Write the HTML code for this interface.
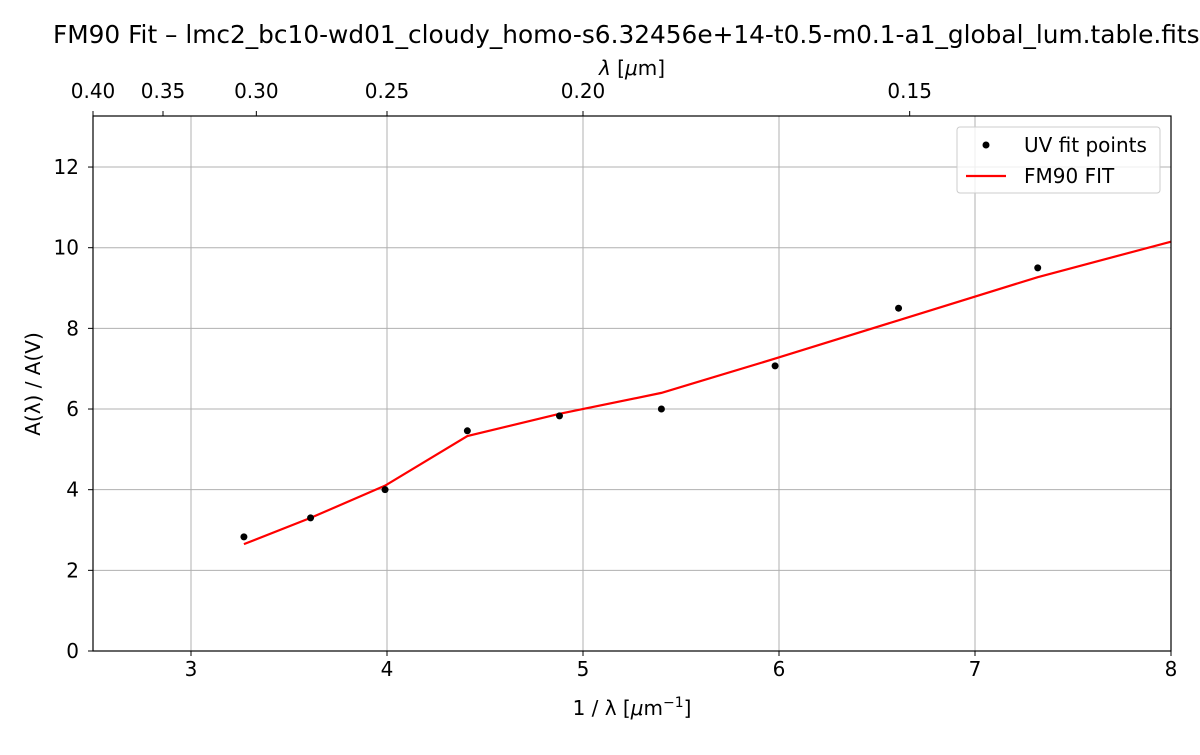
<!DOCTYPE html>
<html><head><meta charset="utf-8"><style>
body{margin:0;background:#fff}
svg text{font-family:"DejaVu Sans","Liberation Sans",sans-serif;fill:#000}
</style></head><body>
<svg id="chart" width="1200" height="750" xmlns="http://www.w3.org/2000/svg">
<text x="53" y="43" font-size="24.8">FM90 Fit – lmc2_bc10-wd01_cloudy_homo-s6.32456e+14-t0.5-m0.1-a1_global_lum.table.fits</text>
<g id="grid"></g>
<g id="marks"></g>
<rect x="93" y="116" width="1078" height="535" fill="none" stroke="#000" stroke-width="1.2"/>
<g id="axes"></g>
<text x="632" y="715" font-size="20" text-anchor="middle">1 / λ [<tspan font-style="italic">μ</tspan>m<tspan dy="-8" font-size="14">−1</tspan><tspan dy="8">]</tspan></text>
<text x="632" y="75" font-size="20" text-anchor="middle"><tspan font-style="italic">λ</tspan> [<tspan font-style="italic">μ</tspan>m]</text>
<text transform="translate(40,384) rotate(-90)" font-size="20" text-anchor="middle">A(λ) / A(V)</text>
<g>
<rect x="957" y="127" width="203" height="66" rx="3" fill="#fff" fill-opacity="0.8" stroke="#ccc"/>
<circle cx="986" cy="145" r="3.5" fill="#000"/>
<text x="1024" y="152" font-size="20">UV fit points</text>
<line x1="966" y1="176" x2="1006" y2="176" stroke="red" stroke-width="2.2"/>
<text x="1024" y="183" font-size="20">FM90 FIT</text>
</g>
</svg>
<script>
const pointX=[3.27,3.61,3.99,4.41,4.88,5.40,5.98,6.61,7.32];
const pointY=[2.83,3.3,4.0,5.46,5.83,6.0,7.07,8.5,9.5];
const fitX=[3.27,3.61,3.99,4.41,4.88,5.40,5.98,6.61,7.32,8.0];
const fitY=[2.65,3.3,4.1,5.33,5.88,6.4,7.25,8.2,9.27,10.15];
const xTicks=[3,4,5,6,7,8];
const yTicks=[0,2,4,6,8,10,12];
const topTicks=[0.40,0.35,0.30,0.25,0.20,0.15];
const NS="http://www.w3.org/2000/svg";
const X=v=>93+(v-2.5)*196;
const Y=v=>651-v*40.33;
function mk(t,a,p){const e=document.createElementNS(NS,t);for(const k in a)e.setAttribute(k,a[k]);p.appendChild(e);return e;}
const grid=document.getElementById('grid'),axes=document.getElementById('axes'),marks=document.getElementById('marks');
xTicks.forEach(v=>{
 const g=mk('line',{x1:X(v),x2:X(v),y1:116,y2:651,stroke:'#b0b0b0','stroke-width':1},grid);
 
 
 mk('line',{x1:X(v),x2:X(v),y1:651,y2:656,stroke:'#000'},axes);
 const t=mk('text',{x:X(v),y:676,'font-size':20,'text-anchor':'middle'},axes);t.textContent=v;
 
 
});
yTicks.forEach(v=>{
 const g=mk('line',{x1:93,x2:1171,y1:Y(v),y2:Y(v),stroke:'#b0b0b0','stroke-width':1},grid);
 
 
 mk('line',{x1:88,x2:93,y1:Y(v),y2:Y(v),stroke:'#000'},axes);
 const t=mk('text',{x:79,y:Y(v)+7,'font-size':20,'text-anchor':'end'},axes);t.textContent=v;
 
 
});
topTicks.forEach(v=>{
 const x=X(1/v);
 mk('line',{x1:x,x2:x,y1:116,y2:111,stroke:'#000'},axes);
 const t=mk('text',{x:x,y:98,'font-size':20,'text-anchor':'middle'},axes);t.textContent=v.toFixed(2);
 
 
});
const line=mk('polyline',{points:fitX.map((v,i)=>X(v)+','+Y(fitY[i])).join(' '),fill:'none',stroke:'red','stroke-width':2.2},marks);


pointX.forEach((v,i)=>{
 const c=mk('circle',{cx:X(v),cy:Y(pointY[i]),r:3.5,fill:'#000'},marks);
 
 
});
</script>
</body></html>
